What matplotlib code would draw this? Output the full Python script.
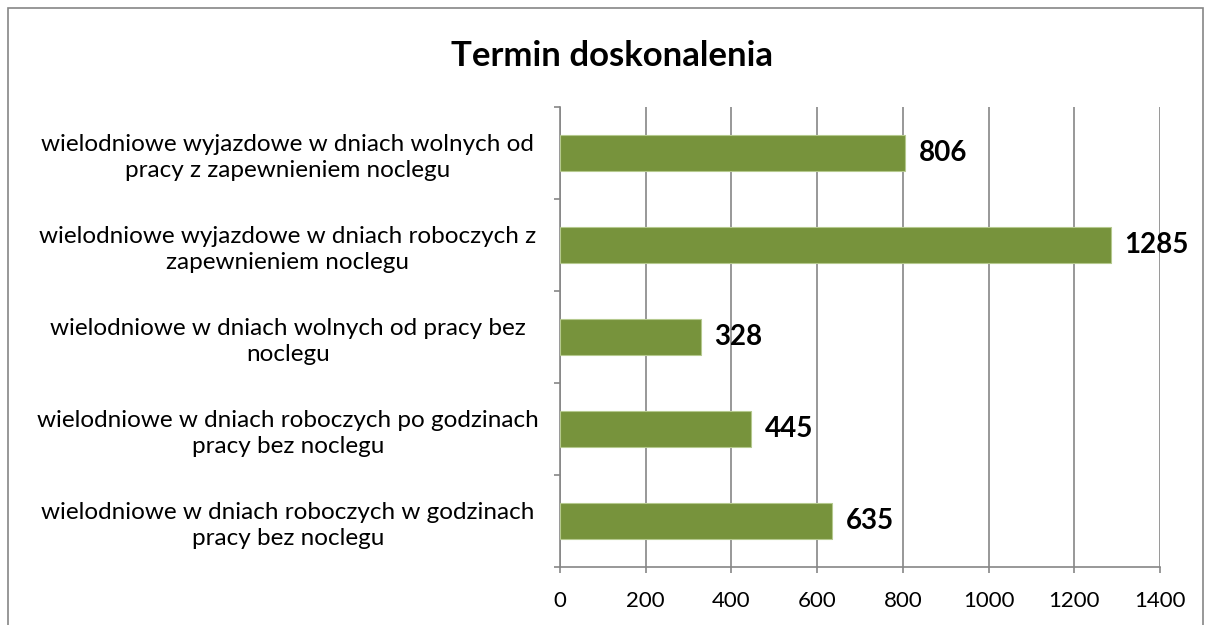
import matplotlib
matplotlib.use("Agg")
from matplotlib import pyplot as plt
from matplotlib.patches import Rectangle
import numpy as np

plt.rcParams['font.family'] = ['Lato', 'DejaVu Sans']

# Data (top to bottom)
categories = [
    "wielodniowe wyjazdowe w dniach wolnych od\npracy z zapewnieniem noclegu",
    "wielodniowe wyjazdowe w dniach roboczych z\nzapewnieniem noclegu",
    "wielodniowe w dniach wolnych od pracy bez\nnoclegu",
    "wielodniowe w dniach roboczych po godzinach\npracy bez noclegu",
    "wielodniowe w dniach roboczych w godzinach\npracy bez noclegu",
]
values = [806, 1285, 328, 445, 635]
x_ticks = [0, 200, 400, 600, 800, 1000, 1200, 1400]
title = "Termin doskonalenia"

grey = '#868686'
green = '#77933C'

fig = plt.figure(figsize=(12.05, 6.25), dpi=100)

# outer chart frame
fig.patches.append(Rectangle((8 / 1205, -0.05), 1195 / 1205, 1.05 - 8 / 625,
                             transform=fig.transFigure, fill=False,
                             edgecolor=grey, linewidth=1.2))

ax = fig.add_axes([560 / 1205, 58 / 625, 600 / 1205, 460 / 625])

y = np.arange(len(categories))
bars = ax.barh(y, values, height=0.4, color=green, edgecolor='#b5c98e',
               linewidth=0.8, zorder=3)
ax.bar_label(bars, labels=[str(v) for v in values], padding=10,
             fontsize=20, fontweight='bold', color='black')

ax.set_xlim(0, 1400)
ax.set_ylim(len(categories) - 0.5, -0.5)
ax.set_xticks(x_ticks)
ax.set_xticklabels([str(t) for t in x_ticks], fontsize=16)
ax.set_yticks(y)
ax.set_yticklabels(categories, fontsize=17.5, linespacing=1.3)
ax.set_yticks(np.arange(-0.5, len(categories)), minor=True)

ax.tick_params(axis='y', which='major', length=0, pad=196)
ax.tick_params(axis='y', which='minor', length=4.5, width=1.2,
               color=grey, direction='out')
ax.tick_params(axis='x', length=4.5, width=1.2, color=grey,
               direction='out', pad=13)
for lbl in ax.get_yticklabels():
    lbl.set_horizontalalignment('center')
    lbl.set_multialignment('center')

ax.grid(axis='x', color=grey, linewidth=1.2, zorder=0)
for side in ['top', 'right']:
    ax.spines[side].set_visible(False)
for side in ['left', 'bottom']:
    ax.spines[side].set_color(grey)
    ax.spines[side].set_linewidth(1.2)

fig.text(612 / 1205, 1 - 56 / 625, title, fontsize=25, fontweight='bold',
         ha='center', va='center')

fig.savefig('out.png', dpi=100)
